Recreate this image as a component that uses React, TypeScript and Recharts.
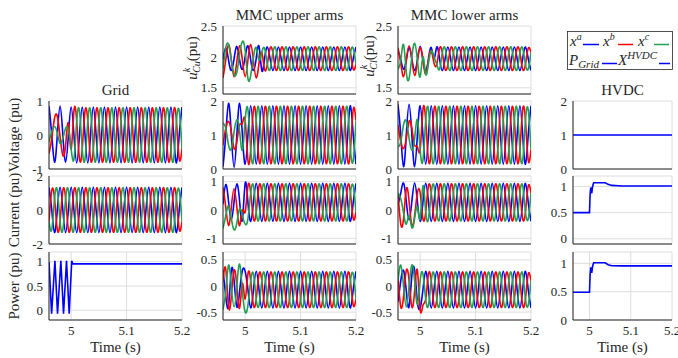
import React from 'react';
import { LineChart, Line, XAxis, YAxis, CartesianGrid } from 'recharts';

// time grid for the three-phase traces (s)
const T = [
  4.96, 4.965, 4.97, 4.975, 4.98, 4.985, 4.99, 4.995,
  5, 5.005, 5.01, 5.015, 5.02, 5.025, 5.03, 5.035, 5.04, 5.045, 5.05, 5.055,
  5.06, 5.065, 5.07, 5.075, 5.08, 5.085, 5.09, 5.095, 5.1, 5.105, 5.11, 5.115,
  5.12, 5.125, 5.13, 5.135, 5.14, 5.145, 5.15, 5.155, 5.16, 5.165, 5.17, 5.175,
  5.18, 5.185, 5.19, 5.195, 5.2,
];
const X_TICKS = [5, 5.1, 5.2];

// Grid voltage
const GRID_VA = [
  0.85, 0, -0.8, 0, 0.85, 0, -0.8, 0,
  0.82, 0, -0.82, 0, 0.82, 0, -0.82, 0, 0.82, 0, -0.82, 0, 0.82, 0, -0.82, 0, 0.82, 0, -0.82, 0,
  0.82, 0, -0.82, 0, 0.82, 0, -0.82, 0, 0.82, 0, -0.82, 0, 0.82, 0, -0.82, 0, 0.82, 0, -0.82, 0,
  0.82,
];
const GRID_VB = [
  -0.55, -0.1, 0.5, 0.55, -0.05, -0.6, -0.3, 0.35,
  -0.41, 0.71, 0.41, -0.71, -0.41, 0.71, 0.41, -0.71, -0.41, 0.71, 0.41, -0.71, -0.41, 0.71, 0.41, -0.71, -0.41, 0.71, 0.41, -0.71,
  -0.41, 0.71, 0.41, -0.71, -0.41, 0.71, 0.41, -0.71, -0.41, 0.71, 0.41, -0.71, -0.41, 0.71, 0.41, -0.71, -0.41, 0.71, 0.41, -0.71,
  -0.41,
];
const GRID_VC = [
  -0.2, 0.1, 0.25, 0.05, -0.25, -0.1, 0.2, 0.15,
  -0.41, -0.71, 0.41, 0.71, -0.41, -0.71, 0.41, 0.71, -0.41, -0.71, 0.41, 0.71, -0.41, -0.71, 0.41, 0.71, -0.41, -0.71, 0.41, 0.71,
  -0.41, -0.71, 0.41, 0.71, -0.41, -0.71, 0.41, 0.71, -0.41, -0.71, 0.41, 0.71, -0.41, -0.71, 0.41, 0.71, -0.41, -0.71, 0.41, 0.71,
  -0.41,
];

// Grid current
const GRID_IA = [
  1.33, 0, -1.33, 0, 1.33, 0, -1.33, 0, 1.33, 0, -1.33, 0, 1.33, 0, -1.33, 0,
  1.33, 0, -1.33, 0, 1.33, 0, -1.33, 0, 1.33, 0, -1.33, 0, 1.33, 0, -1.33, 0,
  1.33, 0, -1.33, 0, 1.33, 0, -1.33, 0, 1.33, 0, -1.33, 0, 1.33, 0, -1.33, 0,
  1.33,
];
const GRID_IB = [
  -0.67, 1.16, 0.67, -1.16, -0.67, 1.16, 0.67, -1.16, -0.67, 1.16, 0.67, -1.16, -0.67, 1.16, 0.67, -1.16,
  -0.67, 1.16, 0.67, -1.16, -0.67, 1.16, 0.67, -1.16, -0.67, 1.16, 0.67, -1.16, -0.67, 1.16, 0.67, -1.16,
  -0.67, 1.16, 0.67, -1.16, -0.67, 1.16, 0.67, -1.16, -0.67, 1.16, 0.67, -1.16, -0.67, 1.16, 0.67, -1.16,
  -0.67,
];
const GRID_IC = [
  -0.67, -1.16, 0.67, 1.16, -0.67, -1.16, 0.67, 1.16, -0.67, -1.16, 0.67, 1.16, -0.67, -1.16, 0.67, 1.16,
  -0.67, -1.16, 0.67, 1.16, -0.67, -1.16, 0.67, 1.16, -0.67, -1.16, 0.67, 1.16, -0.67, -1.16, 0.67, 1.16,
  -0.67, -1.16, 0.67, 1.16, -0.67, -1.16, 0.67, 1.16, -0.67, -1.16, 0.67, 1.16, -0.67, -1.16, 0.67, 1.16,
  -0.67,
];

// Grid power
const GRID_P_T = [4.96, 4.9647, 4.9707, 4.9754, 4.9814, 4.9862, 4.9916, 4.9964, 5.001, 5.003, 5.2];
const GRID_P = [1.0, -0.07, 1.02, -0.07, 1.02, -0.07, 1.02, -0.07, 1.02, 0.955, 0.955];

// MMC upper arms
const UP_UC_A = [
  1.95, 2.15, 1.95, 1.78, 1.97, 2.17, 1.95, 1.8, 2.0, 2.18, 1.95, 1.78, 1.98, 2.17,
  1.78, 1.97,
  2.16, 1.97, 1.78, 1.97, 2.16, 1.97, 1.78, 1.97, 2.16, 1.97, 1.78, 1.97, 2.16, 1.97, 1.78, 1.97,
  2.16, 1.97, 1.78, 1.97, 2.16, 1.97, 1.78, 1.97, 2.16, 1.97, 1.78, 1.97, 2.16, 1.97, 1.78, 1.97,
  2.16,
];
const UP_UC_B = [
  1.66, 1.95, 2.2, 1.95, 1.68, 1.93, 2.18, 1.95, 1.68, 1.95, 2.2, 1.93, 1.66, 1.9,
  2.07, 1.8,
  1.88, 2.14, 2.07, 1.8, 1.88, 2.14, 2.07, 1.8, 1.88, 2.14, 2.07, 1.8, 1.88, 2.14, 2.07, 1.8,
  1.88, 2.14, 2.07, 1.8, 1.88, 2.14, 2.07, 1.8, 1.88, 2.14, 2.07, 1.8, 1.88, 2.14, 2.07, 1.8,
  1.88,
];
const UP_UC_C = [
  1.8, 2.15, 2.2, 1.95, 1.72, 1.75, 2.05, 2.25, 2.1, 1.65, 1.7, 2.0, 2.15, 1.95,
  2.07, 2.14,
  1.88, 1.8, 2.07, 2.14, 1.88, 1.8, 2.07, 2.14, 1.88, 1.8, 2.07, 2.14, 1.88, 1.8, 2.07, 2.14,
  1.88, 1.8, 2.07, 2.14, 1.88, 1.8, 2.07, 2.14, 1.88, 1.8, 2.07, 2.14, 1.88, 1.8, 2.07, 2.14,
  1.88,
];
const UP_V_A = [
  0.07, 1, 1.93, 1, 0.05, 1, 1.93, 1,
  0.14, 1, 1.86, 1, 0.14, 1, 1.86, 1, 0.14, 1, 1.86, 1, 0.14, 1, 1.86, 1, 0.14, 1, 1.86, 1,
  0.14, 1, 1.86, 1, 0.14, 1, 1.86, 1, 0.14, 1, 1.86, 1, 0.14, 1, 1.86, 1, 0.14, 1, 1.86, 1,
  0.14,
];
const UP_V_B = [
  0.7, 1.2, 1.4, 1.1, 0.6, 0.8, 1.3, 1.35,
  1.43, 0.25, 0.57, 1.75, 1.43, 0.25, 0.57, 1.75, 1.43, 0.25, 0.57, 1.75, 1.43, 0.25, 0.57, 1.75, 1.43, 0.25, 0.57, 1.75,
  1.43, 0.25, 0.57, 1.75, 1.43, 0.25, 0.57, 1.75, 1.43, 0.25, 0.57, 1.75, 1.43, 0.25, 0.57, 1.75, 1.43, 0.25, 0.57, 1.75,
  1.43,
];
const UP_V_C = [
  1.35, 1.2, 0.7, 0.6, 1.1, 1.45, 1.1, 0.55,
  1.43, 1.75, 0.57, 0.25, 1.43, 1.75, 0.57, 0.25, 1.43, 1.75, 0.57, 0.25, 1.43, 1.75, 0.57, 0.25, 1.43, 1.75, 0.57, 0.25,
  1.43, 1.75, 0.57, 0.25, 1.43, 1.75, 0.57, 0.25, 1.43, 1.75, 0.57, 0.25, 1.43, 1.75, 0.57, 0.25, 1.43, 1.75, 0.57, 0.25,
  1.43,
];
const UP_I_A = [
  0.2, 0.9, 0.3, -0.35, 0.3, 0.92, 0.3, -0.35,
  0.94, 0.27, -0.4, 0.27, 0.94, 0.27, -0.4, 0.27, 0.94, 0.27, -0.4, 0.27, 0.94, 0.27, -0.4, 0.27, 0.94, 0.27, -0.4, 0.27,
  0.94, 0.27, -0.4, 0.27, 0.94, 0.27, -0.4, 0.27, 0.94, 0.27, -0.4, 0.27, 0.94, 0.27, -0.4, 0.27, 0.94, 0.27, -0.4, 0.27,
  0.94,
];
const UP_I_B = [
  0.8, 0.1, -0.55, 0.1, 0.75, 0.1, -0.55, 0,
  -0.07, 0.85, 0.6, -0.31, -0.07, 0.85, 0.6, -0.31, -0.07, 0.85, 0.6, -0.31, -0.07, 0.85, 0.6, -0.31, -0.07, 0.85, 0.6, -0.31,
  -0.07, 0.85, 0.6, -0.31, -0.07, 0.85, 0.6, -0.31, -0.07, 0.85, 0.6, -0.31, -0.07, 0.85, 0.6, -0.31, -0.07, 0.85, 0.6, -0.31,
  -0.07,
];
const UP_I_C = [
  -0.65, -0.2, 0.15, -0.3, -0.7, -0.45, 0.05, -0.2,
  -0.5, -0.31, 0.6, 0.85,
  -0.07, -0.31, 0.6, 0.85, -0.07, -0.31, 0.6, 0.85, -0.07, -0.31, 0.6, 0.85, -0.07, -0.31, 0.6, 0.85,
  -0.07, -0.31, 0.6, 0.85, -0.07, -0.31, 0.6, 0.85, -0.07, -0.31, 0.6, 0.85, -0.07, -0.31, 0.6, 0.85,
  -0.07, -0.31, 0.6, 0.85,
  -0.07,
];
const UP_P_A = [
  0.3, -0.2, -0.38, 0.3, 0.1, -0.4, -0.1, 0.3,
  0.28, -0.07, -0.42, -0.07, 0.28, -0.07, -0.42, -0.07, 0.28, -0.07, -0.42, -0.07, 0.28, -0.07, -0.42, -0.07, 0.28, -0.07, -0.42, -0.07,
  0.28, -0.07, -0.42, -0.07, 0.28, -0.07, -0.42, -0.07, 0.28, -0.07, -0.42, -0.07, 0.28, -0.07, -0.42, -0.07, 0.28, -0.07, -0.42, -0.07,
  0.28,
];
const UP_P_B = [
  0.1, 0.32, -0.4, -0.2, 0.3, 0, -0.42, 0.05,
  -0.25, 0.23, 0.1, -0.37, -0.25, 0.23, 0.1, -0.37, -0.25, 0.23, 0.1, -0.37, -0.25, 0.23, 0.1, -0.37, -0.25, 0.23, 0.1, -0.37,
  -0.25, 0.23, 0.1, -0.37, -0.25, 0.23, 0.1, -0.37, -0.25, 0.23, 0.1, -0.37, -0.25, 0.23, 0.1, -0.37, -0.25, 0.23, 0.1, -0.37,
  -0.25,
];
const UP_P_C = [
  -0.45, -0.1, 0.4, 0, -0.4, 0, 0.42, -0.1,
  -0.5, -0.37, 0.1, 0.23,
  -0.25, -0.37, 0.1, 0.23, -0.25, -0.37, 0.1, 0.23, -0.25, -0.37, 0.1, 0.23, -0.25, -0.37, 0.1, 0.23,
  -0.25, -0.37, 0.1, 0.23, -0.25, -0.37, 0.1, 0.23, -0.25, -0.37, 0.1, 0.23, -0.25, -0.37, 0.1, 0.23,
  -0.25, -0.37, 0.1, 0.23,
  -0.25,
];

// MMC lower arms
const LO_UC_A = [
  2.1, 1.95, 1.8, 1.95, 2.15, 1.97, 1.78, 1.95, 2.17, 1.95, 1.78, 1.97, 2.15, 1.97,
  2.16, 1.97,
  1.78, 1.97, 2.16, 1.97, 1.78, 1.97, 2.16, 1.97, 1.78, 1.97, 2.16, 1.97, 1.78, 1.97, 2.16, 1.97,
  1.78, 1.97, 2.16, 1.97, 1.78, 1.97, 2.16, 1.97, 1.78, 1.97, 2.16, 1.97, 1.78, 1.97, 2.16, 1.97,
  1.78,
];
const LO_UC_B = [
  2.15, 1.9, 1.68, 1.95, 2.18, 1.95, 1.7, 1.93, 2.15, 1.95, 1.72, 1.95, 2.1, 1.9,
  1.88, 2.14,
  2.07, 1.8, 1.88, 2.14, 2.07, 1.8, 1.88, 2.14, 2.07, 1.8, 1.88, 2.14, 2.07, 1.8, 1.88, 2.14,
  2.07, 1.8, 1.88, 2.14, 2.07, 1.8, 1.88, 2.14, 2.07, 1.8, 1.88, 2.14, 2.07, 1.8, 1.88, 2.14,
  2.07,
];
const LO_UC_C = [
  1.8, 1.95, 2.2, 1.75, 1.65, 2.0, 2.22, 1.95, 1.68, 2.0, 1.72, 1.9, 2.1, 2.0,
  1.88, 1.8,
  2.07, 2.14, 1.88, 1.8, 2.07, 2.14, 1.88, 1.8, 2.07, 2.14, 1.88, 1.8, 2.07, 2.14, 1.88, 1.8,
  2.07, 2.14, 1.88, 1.8, 2.07, 2.14, 1.88, 1.8, 2.07, 2.14, 1.88, 1.8, 2.07, 2.14, 1.88, 1.8,
  2.07,
];
const LO_V_A = [
  1.9, 1, 0.07, 1, 1.9, 1, 0.07, 1,
  1.86, 1, 0.14, 1, 1.86, 1, 0.14, 1, 1.86, 1, 0.14, 1, 1.86, 1, 0.14, 1, 1.86, 1, 0.14, 1,
  1.86, 1, 0.14, 1, 1.86, 1, 0.14, 1, 1.86, 1, 0.14, 1, 1.86, 1, 0.14, 1, 1.86, 1, 0.14, 1,
  1.86,
];
const LO_V_B = [
  1.3, 0.8, 0.6, 0.9, 1.4, 1.2, 0.7, 0.65,
  0.57, 1.75, 1.43, 0.25, 0.57, 1.75, 1.43, 0.25, 0.57, 1.75, 1.43, 0.25, 0.57, 1.75, 1.43, 0.25, 0.57, 1.75, 1.43, 0.25,
  0.57, 1.75, 1.43, 0.25, 0.57, 1.75, 1.43, 0.25, 0.57, 1.75, 1.43, 0.25, 0.57, 1.75, 1.43, 0.25, 0.57, 1.75, 1.43, 0.25,
  0.57,
];
const LO_V_C = [
  0.65, 0.8, 1.3, 1.4, 0.9, 0.55, 0.9, 1.45,
  0.57, 0.25, 1.43, 1.75, 0.57, 0.25, 1.43, 1.75, 0.57, 0.25, 1.43, 1.75, 0.57, 0.25, 1.43, 1.75, 0.57, 0.25, 1.43, 1.75,
  0.57, 0.25, 1.43, 1.75, 0.57, 0.25, 1.43, 1.75, 0.57, 0.25, 1.43, 1.75, 0.57, 0.25, 1.43, 1.75, 0.57, 0.25, 1.43, 1.75,
  0.57,
];
const LO_I_A = [
  0.2, 0.6, 0.95, 0.3, -0.35, 0.3, 0.95, 0.3,
  -0.4, 0.27, 0.94, 0.27, -0.4, 0.27, 0.94, 0.27, -0.4, 0.27, 0.94, 0.27, -0.4, 0.27, 0.94, 0.27, -0.4, 0.27, 0.94, 0.27,
  -0.4, 0.27, 0.94, 0.27, -0.4, 0.27, 0.94, 0.27, -0.4, 0.27, 0.94, 0.27, -0.4, 0.27, 0.94, 0.27, -0.4, 0.27, 0.94, 0.27,
  -0.4,
];
const LO_I_B = [
  0.6, -0.5, -0.3, 0.75, 0.3, -0.55, -0.2, 0.6,
  0.6, -0.31, -0.07, 0.85, 0.6, -0.31, -0.07, 0.85, 0.6, -0.31, -0.07, 0.85, 0.6, -0.31, -0.07, 0.85, 0.6, -0.31, -0.07, 0.85,
  0.6, -0.31, -0.07, 0.85, 0.6, -0.31, -0.07, 0.85, 0.6, -0.31, -0.07, 0.85, 0.6, -0.31, -0.07, 0.85, 0.6, -0.31, -0.07, 0.85,
  0.6,
];
const LO_I_C = [
  0.6, 0.4, -0.1, -0.5, -0.2, -0.62, -0.3, 0.1,
  -0.3, 0.85, -0.07, -0.31,
  0.6, 0.85, -0.07, -0.31, 0.6, 0.85, -0.07, -0.31, 0.6, 0.85, -0.07, -0.31, 0.6, 0.85, -0.07, -0.31,
  0.6, 0.85, -0.07, -0.31, 0.6, 0.85, -0.07, -0.31, 0.6, 0.85, -0.07, -0.31, 0.6, 0.85, -0.07, -0.31,
  0.6, 0.85, -0.07, -0.31,
  0.6,
];
const LO_P_A = [
  -0.3, 0.1, 0.3, -0.1, -0.4, 0.2, 0.3, -0.3,
  -0.42, -0.07, 0.28, -0.07, -0.42, -0.07, 0.28, -0.07, -0.42, -0.07, 0.28, -0.07, -0.42, -0.07, 0.28, -0.07, -0.42, -0.07, 0.28, -0.07,
  -0.42, -0.07, 0.28, -0.07, -0.42, -0.07, 0.28, -0.07, -0.42, -0.07, 0.28, -0.07, -0.42, -0.07, 0.28, -0.07, -0.42, -0.07, 0.28, -0.07,
  -0.42,
];
const LO_P_B = [
  0.2, -0.4, -0.2, 0.3, 0.1, -0.4, -0.1, 0.3,
  -0.45, -0.37, -0.25, 0.23,
  0.1, -0.37, -0.25, 0.23, 0.1, -0.37, -0.25, 0.23, 0.1, -0.37, -0.25, 0.23, 0.1, -0.37, -0.25, 0.23,
  0.1, -0.37, -0.25, 0.23, 0.1, -0.37, -0.25, 0.23, 0.1, -0.37, -0.25, 0.23, 0.1, -0.37, -0.25, 0.23,
  0.1, -0.37, -0.25, 0.23,
  0.1,
];
const LO_P_C = [
  0.1, 0.4, 0, -0.4, 0, 0.4, 0.1, -0.35,
  0.1, 0.23, -0.25, -0.37, 0.1, 0.23, -0.25, -0.37, 0.1, 0.23, -0.25, -0.37, 0.1, 0.23, -0.25, -0.37, 0.1, 0.23, -0.25, -0.37,
  0.1, 0.23, -0.25, -0.37, 0.1, 0.23, -0.25, -0.37, 0.1, 0.23, -0.25, -0.37, 0.1, 0.23, -0.25, -0.37, 0.1, 0.23, -0.25, -0.37,
  0.1,
];

// HVDC side
const HV_T = [4.96, 5.2];
const HV_V = [1, 1];
const HD_T = [4.96, 5.0, 5.0015, 5.003, 5.0055, 5.0075, 5.01, 5.02, 5.03, 5.038, 5.045, 5.054, 5.08, 5.12, 5.2];
const HD_I = [0.5, 0.5, 0.85, 0.98, 0.87, 1.0, 1.07, 1.07, 1.07, 1.07, 1.04, 1.02, 1.01, 1.01, 1.01];
const HD_P = [0.49, 0.49, 0.8, 0.93, 0.83, 0.95, 1.01, 1.01, 1.01, 1.01, 0.975, 0.958, 0.955, 0.955, 0.955];

const FONT = '"Liberation Serif", "DejaVu Serif", serif';
const INK = '#262626';
const BLUE = '#0000ff';
const RED = '#ff0000';
const GREEN = '#20a050';

const pts = (xs: number[], ys: number[]) => xs.map((t, i) => ({ t, v: ys[i] }));
const three = (a: number[], b: number[], c: number[]) => [
  { data: pts(T, a), color: BLUE },
  { data: pts(T, b), color: RED },
  { data: pts(T, c), color: GREEN },
];

const YW = 34;
const MT = 8;
const MR = 10;
const H = 68;

function Panel({ x, y, w, domain, ticks, series, curve = 'natural', showX = false }: any) {
  const xh = showX ? 22 : 1;
  const mb = showX ? 0 : 8;
  const tickStyle = { fontSize: 13, fill: INK, fontFamily: FONT };
  return (
    <div style={{ position: 'absolute', left: x - YW, top: y - MT }}>
      <LineChart width={YW + w + MR} height={MT + H + xh + mb} margin={{ top: MT, right: MR, bottom: mb, left: 0 }}>
        <CartesianGrid stroke="#dedede" />
        <XAxis
          type="number"
          dataKey="t"
          domain={[4.96, 5.2]}
          ticks={X_TICKS}
          allowDataOverflow
          interval={0}
          height={xh}
          tick={showX ? tickStyle : false}
          tickLine={false}
          tickSize={4}
          tickMargin={2}
          axisLine={{ stroke: INK }}
        />
        <YAxis
          type="number"
          domain={domain}
          ticks={ticks}
          allowDataOverflow
          interval={0}
          width={YW}
          tick={tickStyle}
          tickLine={false}
          tickSize={4}
          tickMargin={2}
          axisLine={{ stroke: INK }}
        />
        {series.map((s: any, i: number) => (
          <Line
            key={i}
            data={s.data}
            dataKey="v"
            type={curve}
            stroke={s.color}
            strokeWidth={1.6}
            dot={false}
            activeDot={false}
            isAnimationActive={false}
          />
        ))}
      </LineChart>
    </div>
  );
}

const C1 = 49, C2 = 223, C3 = 398, C4 = 573;
const R0 = 26, R1 = 101, R2 = 176, R3 = 252;

export default function App() {
  const lbl = { fontSize: 15, textAnchor: 'middle' as const };
  return (
    <div style={{ position: 'absolute', left: 0, top: 0, width: 678, height: 358, background: '#fff', overflow: 'hidden', fontFamily: FONT }}>
      <style>{'body{margin:0;overflow:hidden}'}</style>

      {/* Grid */}
      <Panel x={C1} y={R1} w={133} domain={[-1, 1]} ticks={[-1, 0, 1]} series={three(GRID_VA, GRID_VB, GRID_VC)} />
      <Panel x={C1} y={R2} w={133} domain={[-2, 2]} ticks={[-2, 0, 2]} series={three(GRID_IA, GRID_IB, GRID_IC)} />
      <Panel x={C1} y={R3} w={133} domain={[-0.2, 1.2]} ticks={[0, 0.5, 1]} curve="linear" showX
        series={[{ data: pts(GRID_P_T, GRID_P), color: BLUE }]} />

      {/* MMC upper arms */}
      <Panel x={C2} y={R0} w={133} domain={[1.4, 2.5]} ticks={[1.5, 2, 2.5]} series={three(UP_UC_A, UP_UC_B, UP_UC_C)} />
      <Panel x={C2} y={R1} w={133} domain={[0, 2]} ticks={[0, 1, 2]} series={three(UP_V_A, UP_V_B, UP_V_C)} />
      <Panel x={C2} y={R2} w={133} domain={[-1.2, 1.2]} ticks={[-1, 0, 1]} series={three(UP_I_A, UP_I_B, UP_I_C)} />
      <Panel x={C2} y={R3} w={133} domain={[-0.65, 0.65]} ticks={[-0.5, 0, 0.5]} showX series={three(UP_P_A, UP_P_B, UP_P_C)} />

      {/* MMC lower arms */}
      <Panel x={C3} y={R0} w={133} domain={[1.4, 2.5]} ticks={[1.5, 2, 2.5]} series={three(LO_UC_A, LO_UC_B, LO_UC_C)} />
      <Panel x={C3} y={R1} w={133} domain={[0, 2]} ticks={[0, 1, 2]} series={three(LO_V_A, LO_V_B, LO_V_C)} />
      <Panel x={C3} y={R2} w={133} domain={[-1.2, 1.2]} ticks={[-1, 0, 1]} series={three(LO_I_A, LO_I_B, LO_I_C)} />
      <Panel x={C3} y={R3} w={133} domain={[-0.65, 0.65]} ticks={[-0.5, 0, 0.5]} showX series={three(LO_P_A, LO_P_B, LO_P_C)} />

      {/* HVDC */}
      <Panel x={C4} y={R1} w={99} domain={[0, 2]} ticks={[0, 1, 2]} curve="linear"
        series={[{ data: pts(HV_T, HV_V), color: BLUE }]} />
      <Panel x={C4} y={R2} w={99} domain={[-0.1, 1.2]} ticks={[0, 0.5, 1]} curve="linear"
        series={[{ data: pts(HD_T, HD_I), color: BLUE }]} />
      <Panel x={C4} y={R3} w={99} domain={[0, 1.2]} ticks={[0, 0.5, 1]} curve="linear" showX
        series={[{ data: pts(HD_T, HD_P), color: BLUE }]} />

      <svg width={678} height={358} style={{ position: 'absolute', left: 0, top: 0 }} fontFamily={FONT} fill={INK}>
        <text x={115.5} y={95} {...lbl}>Grid</text>
        <text x={289.5} y={20} {...lbl}>MMC upper arms</text>
        <text x={464.5} y={20} {...lbl}>MMC lower arms</text>
        <text x={622.5} y={95} {...lbl}>HVDC</text>

        <text x={115.5} y={352} {...lbl}>Time (s)</text>
        <text x={289.5} y={352} {...lbl}>Time (s)</text>
        <text x={464.5} y={352} {...lbl}>Time (s)</text>
        <text x={622.5} y={352} {...lbl}>Time (s)</text>

        <text transform="translate(19,135) rotate(-90)" {...lbl}>Voltage (pu)</text>
        <text transform="translate(19,210) rotate(-90)" {...lbl}>Current (pu)</text>
        <text transform="translate(19,286) rotate(-90)" {...lbl}>Power (pu)</text>

        <text transform="translate(197,58) rotate(-90)" {...lbl}>
          <tspan fontStyle="italic">u</tspan>
          <tspan fontStyle="italic" fontSize={10} dy={-7}>k</tspan>
          <tspan fontStyle="italic" fontSize={10} dx={-5} dy={10}>Cu</tspan>
          <tspan dy={-3}>(pu)</tspan>
        </text>
        <text transform="translate(374,56) rotate(-90)" {...lbl}>
          <tspan fontStyle="italic">u</tspan>
          <tspan fontStyle="italic" fontSize={10} dy={-7}>k</tspan>
          <tspan fontStyle="italic" fontSize={10} dx={-5} dy={10}>Cl</tspan>
          <tspan dy={-3}>(pu)</tspan>
        </text>

        {/* legend */}
        <rect x={567.5} y={31.5} width={105} height={38} fill="#fff" stroke={INK} strokeWidth={0.8} />
        <text x={570} y={46} fontSize={15} fontStyle="italic">x<tspan fontSize={10} dy={-6}>a</tspan></text>
        <line x1={583} x2={599} y1={44.5} y2={44.5} stroke={BLUE} strokeWidth={1.5} />
        <text x={603} y={46} fontSize={15} fontStyle="italic">x<tspan fontSize={10} dy={-6}>b</tspan></text>
        <line x1={618} x2={633} y1={44.5} y2={44.5} stroke={RED} strokeWidth={1.5} />
        <text x={638} y={46} fontSize={15} fontStyle="italic">x<tspan fontSize={10} dy={-6}>c</tspan></text>
        <line x1={654} x2={669} y1={44.5} y2={44.5} stroke={GREEN} strokeWidth={1.5} />

        <text x={569} y={65} fontSize={15} fontStyle="italic">P<tspan fontSize={11} dy={3}>Grid</tspan></text>
        <line x1={602} x2={617} y1={63.5} y2={63.5} stroke={BLUE} strokeWidth={1.5} />
        <text x={618} y={65} fontSize={15} fontStyle="italic">X<tspan fontSize={11} dy={-6}>HVDC</tspan></text>
        <line x1={659} x2={670} y1={63.5} y2={63.5} stroke={BLUE} strokeWidth={1.5} />
      </svg>
    </div>
  );
}
